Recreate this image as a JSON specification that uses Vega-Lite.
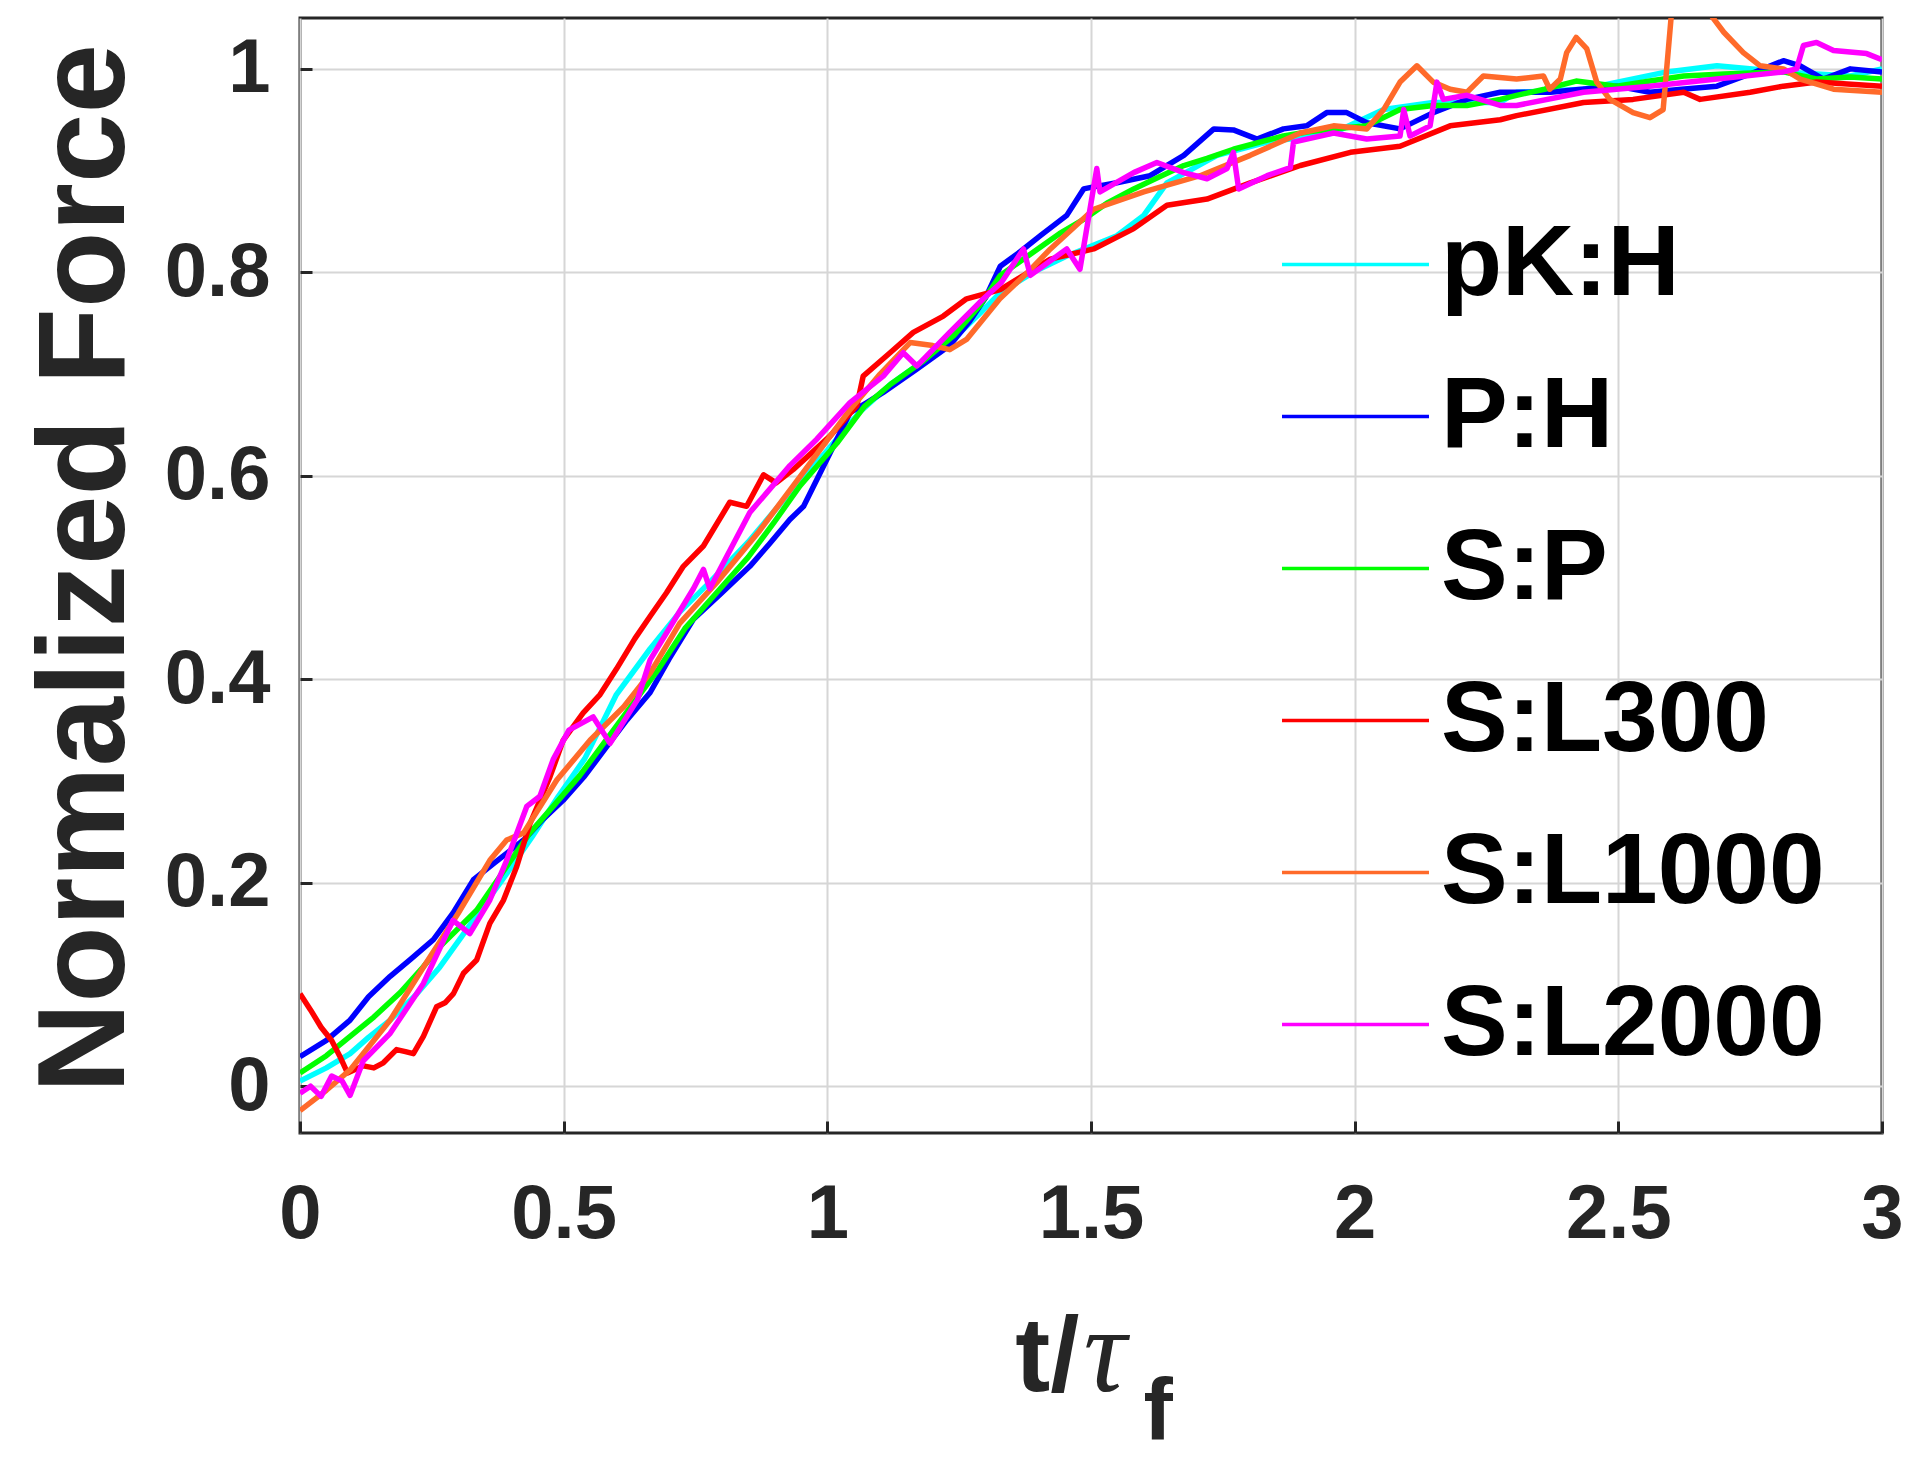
{
  "$schema": "https://vega.github.io/schema/vega-lite/v6.json",
  "autosize": "none",
  "width": 1582,
  "height": 1115,
  "padding": {"left": 300, "top": 18, "right": 38, "bottom": 334},
  "background": "white",
  "config": {
    "view": {"stroke": "#262626", "strokeWidth": 3},
    "axis": {"gridColor": "#d6d6d6", "gridWidth": 2, "gridOpacity": 1}
  },
  "datasets": {
    "curves": [
      {"s":"pK:H","x":0,"y":0.005},{"s":"pK:H","x":0.05,"y":0.018},{"s":"pK:H","x":0.095,"y":0.032},{"s":"pK:H","x":0.13,"y":0.048},{"s":"pK:H","x":0.171,"y":0.065},{"s":"pK:H","x":0.22,"y":0.09},{"s":"pK:H","x":0.265,"y":0.117},{"s":"pK:H","x":0.316,"y":0.154},{"s":"pK:H","x":0.392,"y":0.209},{"s":"pK:H","x":0.44,"y":0.245},{"s":"pK:H","x":0.49,"y":0.285},{"s":"pK:H","x":0.54,"y":0.322},{"s":"pK:H","x":0.6,"y":0.385},{"s":"pK:H","x":0.664,"y":0.43},{"s":"pK:H","x":0.72,"y":0.466},{"s":"pK:H","x":0.78,"y":0.497},{"s":"pK:H","x":0.85,"y":0.535},{"s":"pK:H","x":0.92,"y":0.578},{"s":"pK:H","x":1.0,"y":0.625},{"s":"pK:H","x":1.06,"y":0.662},{"s":"pK:H","x":1.12,"y":0.69},{"s":"pK:H","x":1.18,"y":0.712},{"s":"pK:H","x":1.24,"y":0.735},{"s":"pK:H","x":1.29,"y":0.76},{"s":"pK:H","x":1.328,"y":0.78},{"s":"pK:H","x":1.39,"y":0.8},{"s":"pK:H","x":1.454,"y":0.816},{"s":"pK:H","x":1.549,"y":0.836},{"s":"pK:H","x":1.6,"y":0.856},{"s":"pK:H","x":1.644,"y":0.888},{"s":"pK:H","x":1.739,"y":0.915},{"s":"pK:H","x":1.834,"y":0.928},{"s":"pK:H","x":1.96,"y":0.937},{"s":"pK:H","x":2.055,"y":0.96},{"s":"pK:H","x":2.149,"y":0.967},{"s":"pK:H","x":2.276,"y":0.967},{"s":"pK:H","x":2.307,"y":0.977},{"s":"pK:H","x":2.434,"y":0.98},{"s":"pK:H","x":2.592,"y":0.997},{"s":"pK:H","x":2.687,"y":1.003},{"s":"pK:H","x":2.813,"y":0.997},{"s":"pK:H","x":2.94,"y":0.993},{"s":"pK:H","x":3.0,"y":1.0},

      {"s":"P:H","x":0,"y":0.029},{"s":"P:H","x":0.05,"y":0.045},{"s":"P:H","x":0.095,"y":0.065},{"s":"P:H","x":0.13,"y":0.088},{"s":"P:H","x":0.171,"y":0.108},{"s":"P:H","x":0.21,"y":0.125},{"s":"P:H","x":0.253,"y":0.144},{"s":"P:H","x":0.29,"y":0.17},{"s":"P:H","x":0.329,"y":0.203},{"s":"P:H","x":0.37,"y":0.22},{"s":"P:H","x":0.424,"y":0.242},{"s":"P:H","x":0.46,"y":0.262},{"s":"P:H","x":0.499,"y":0.281},{"s":"P:H","x":0.54,"y":0.305},{"s":"P:H","x":0.582,"y":0.334},{"s":"P:H","x":0.62,"y":0.36},{"s":"P:H","x":0.664,"y":0.387},{"s":"P:H","x":0.7,"y":0.42},{"s":"P:H","x":0.746,"y":0.459},{"s":"P:H","x":0.8,"y":0.485},{"s":"P:H","x":0.853,"y":0.511},{"s":"P:H","x":0.89,"y":0.533},{"s":"P:H","x":0.929,"y":0.557},{"s":"P:H","x":0.955,"y":0.57},{"s":"P:H","x":0.999,"y":0.616},{"s":"P:H","x":1.043,"y":0.662},{"s":"P:H","x":1.075,"y":0.672},{"s":"P:H","x":1.106,"y":0.682},{"s":"P:H","x":1.17,"y":0.705},{"s":"P:H","x":1.232,"y":0.728},{"s":"P:H","x":1.27,"y":0.752},{"s":"P:H","x":1.3,"y":0.775},{"s":"P:H","x":1.328,"y":0.806},{"s":"P:H","x":1.365,"y":0.82},{"s":"P:H","x":1.404,"y":0.836},{"s":"P:H","x":1.454,"y":0.856},{"s":"P:H","x":1.486,"y":0.882},{"s":"P:H","x":1.505,"y":0.884},{"s":"P:H","x":1.549,"y":0.888},{"s":"P:H","x":1.612,"y":0.895},{"s":"P:H","x":1.676,"y":0.915},{"s":"P:H","x":1.733,"y":0.941},{"s":"P:H","x":1.77,"y":0.94},{"s":"P:H","x":1.815,"y":0.931},{"s":"P:H","x":1.865,"y":0.941},{"s":"P:H","x":1.909,"y":0.944},{"s":"P:H","x":1.947,"y":0.957},{"s":"P:H","x":1.985,"y":0.957},{"s":"P:H","x":2.023,"y":0.947},{"s":"P:H","x":2.086,"y":0.941},{"s":"P:H","x":2.149,"y":0.957},{"s":"P:H","x":2.213,"y":0.97},{"s":"P:H","x":2.276,"y":0.977},{"s":"P:H","x":2.371,"y":0.977},{"s":"P:H","x":2.43,"y":0.98},{"s":"P:H","x":2.497,"y":0.983},{"s":"P:H","x":2.56,"y":0.977},{"s":"P:H","x":2.62,"y":0.98},{"s":"P:H","x":2.687,"y":0.983},{"s":"P:H","x":2.75,"y":0.995},{"s":"P:H","x":2.813,"y":1.008},{"s":"P:H","x":2.845,"y":1.003},{"s":"P:H","x":2.889,"y":0.99},{"s":"P:H","x":2.94,"y":1.0},{"s":"P:H","x":3.0,"y":0.997},

      {"s":"S:P","x":0,"y":0.013},{"s":"S:P","x":0.05,"y":0.03},{"s":"S:P","x":0.095,"y":0.049},{"s":"S:P","x":0.14,"y":0.068},{"s":"S:P","x":0.19,"y":0.092},{"s":"S:P","x":0.23,"y":0.115},{"s":"S:P","x":0.265,"y":0.137},{"s":"S:P","x":0.3,"y":0.155},{"s":"S:P","x":0.335,"y":0.173},{"s":"S:P","x":0.392,"y":0.216},{"s":"S:P","x":0.436,"y":0.249},{"s":"S:P","x":0.48,"y":0.275},{"s":"S:P","x":0.53,"y":0.305},{"s":"S:P","x":0.58,"y":0.34},{"s":"S:P","x":0.63,"y":0.375},{"s":"S:P","x":0.68,"y":0.41},{"s":"S:P","x":0.73,"y":0.45},{"s":"S:P","x":0.79,"y":0.485},{"s":"S:P","x":0.85,"y":0.52},{"s":"S:P","x":0.9,"y":0.555},{"s":"S:P","x":0.948,"y":0.59},{"s":"S:P","x":1.018,"y":0.632},{"s":"S:P","x":1.07,"y":0.668},{"s":"S:P","x":1.12,"y":0.69},{"s":"S:P","x":1.18,"y":0.712},{"s":"S:P","x":1.24,"y":0.738},{"s":"S:P","x":1.29,"y":0.768},{"s":"S:P","x":1.328,"y":0.797},{"s":"S:P","x":1.391,"y":0.82},{"s":"S:P","x":1.44,"y":0.838},{"s":"S:P","x":1.486,"y":0.852},{"s":"S:P","x":1.53,"y":0.868},{"s":"S:P","x":1.581,"y":0.882},{"s":"S:P","x":1.63,"y":0.894},{"s":"S:P","x":1.676,"y":0.905},{"s":"S:P","x":1.72,"y":0.912},{"s":"S:P","x":1.77,"y":0.921},{"s":"S:P","x":1.82,"y":0.928},{"s":"S:P","x":1.865,"y":0.934},{"s":"S:P","x":1.91,"y":0.938},{"s":"S:P","x":1.96,"y":0.941},{"s":"S:P","x":2.023,"y":0.944},{"s":"S:P","x":2.086,"y":0.96},{"s":"S:P","x":2.149,"y":0.964},{"s":"S:P","x":2.213,"y":0.964},{"s":"S:P","x":2.276,"y":0.97},{"s":"S:P","x":2.307,"y":0.974},{"s":"S:P","x":2.36,"y":0.98},{"s":"S:P","x":2.42,"y":0.988},{"s":"S:P","x":2.497,"y":0.983},{"s":"S:P","x":2.56,"y":0.988},{"s":"S:P","x":2.624,"y":0.993},{"s":"S:P","x":2.7,"y":0.995},{"s":"S:P","x":2.813,"y":0.997},{"s":"S:P","x":2.876,"y":0.99},{"s":"S:P","x":2.94,"y":0.992},{"s":"S:P","x":3.0,"y":0.99},

      {"s":"S:L300","x":0,"y":0.091},{"s":"S:L300","x":0.02,"y":0.075},{"s":"S:L300","x":0.04,"y":0.058},{"s":"S:L300","x":0.06,"y":0.045},{"s":"S:L300","x":0.075,"y":0.03},{"s":"S:L300","x":0.09,"y":0.013},{"s":"S:L300","x":0.12,"y":0.02},{"s":"S:L300","x":0.14,"y":0.018},{"s":"S:L300","x":0.158,"y":0.023},{"s":"S:L300","x":0.183,"y":0.036},{"s":"S:L300","x":0.2,"y":0.034},{"s":"S:L300","x":0.215,"y":0.032},{"s":"S:L300","x":0.234,"y":0.049},{"s":"S:L300","x":0.259,"y":0.078},{"s":"S:L300","x":0.275,"y":0.082},{"s":"S:L300","x":0.291,"y":0.091},{"s":"S:L300","x":0.31,"y":0.111},{"s":"S:L300","x":0.335,"y":0.124},{"s":"S:L300","x":0.36,"y":0.16},{"s":"S:L300","x":0.386,"y":0.183},{"s":"S:L300","x":0.411,"y":0.216},{"s":"S:L300","x":0.436,"y":0.258},{"s":"S:L300","x":0.474,"y":0.304},{"s":"S:L300","x":0.499,"y":0.34},{"s":"S:L300","x":0.537,"y":0.367},{"s":"S:L300","x":0.569,"y":0.385},{"s":"S:L300","x":0.6,"y":0.41},{"s":"S:L300","x":0.635,"y":0.44},{"s":"S:L300","x":0.664,"y":0.462},{"s":"S:L300","x":0.695,"y":0.485},{"s":"S:L300","x":0.727,"y":0.511},{"s":"S:L300","x":0.765,"y":0.531},{"s":"S:L300","x":0.815,"y":0.574},{"s":"S:L300","x":0.847,"y":0.57},{"s":"S:L300","x":0.879,"y":0.601},{"s":"S:L300","x":0.903,"y":0.593},{"s":"S:L300","x":0.935,"y":0.606},{"s":"S:L300","x":1.005,"y":0.639},{"s":"S:L300","x":1.056,"y":0.669},{"s":"S:L300","x":1.068,"y":0.698},{"s":"S:L300","x":1.119,"y":0.721},{"s":"S:L300","x":1.163,"y":0.741},{"s":"S:L300","x":1.22,"y":0.757},{"s":"S:L300","x":1.264,"y":0.774},{"s":"S:L300","x":1.328,"y":0.783},{"s":"S:L300","x":1.423,"y":0.813},{"s":"S:L300","x":1.505,"y":0.823},{"s":"S:L300","x":1.581,"y":0.843},{"s":"S:L300","x":1.644,"y":0.866},{"s":"S:L300","x":1.72,"y":0.872},{"s":"S:L300","x":1.802,"y":0.888},{"s":"S:L300","x":1.897,"y":0.905},{"s":"S:L300","x":1.992,"y":0.918},{"s":"S:L300","x":2.086,"y":0.924},{"s":"S:L300","x":2.181,"y":0.944},{"s":"S:L300","x":2.276,"y":0.95},{"s":"S:L300","x":2.307,"y":0.954},{"s":"S:L300","x":2.434,"y":0.967},{"s":"S:L300","x":2.528,"y":0.97},{"s":"S:L300","x":2.624,"y":0.977},{"s":"S:L300","x":2.655,"y":0.97},{"s":"S:L300","x":2.75,"y":0.977},{"s":"S:L300","x":2.813,"y":0.983},{"s":"S:L300","x":2.876,"y":0.987},{"s":"S:L300","x":3.0,"y":0.983},

      {"s":"S:L1000","x":0,"y":-0.024},{"s":"S:L1000","x":0.05,"y":-0.004},{"s":"S:L1000","x":0.095,"y":0.016},{"s":"S:L1000","x":0.171,"y":0.065},{"s":"S:L1000","x":0.234,"y":0.117},{"s":"S:L1000","x":0.3,"y":0.17},{"s":"S:L1000","x":0.36,"y":0.222},{"s":"S:L1000","x":0.392,"y":0.242},{"s":"S:L1000","x":0.424,"y":0.249},{"s":"S:L1000","x":0.487,"y":0.301},{"s":"S:L1000","x":0.55,"y":0.34},{"s":"S:L1000","x":0.614,"y":0.373},{"s":"S:L1000","x":0.664,"y":0.406},{"s":"S:L1000","x":0.72,"y":0.455},{"s":"S:L1000","x":0.79,"y":0.495},{"s":"S:L1000","x":0.87,"y":0.545},{"s":"S:L1000","x":0.948,"y":0.599},{"s":"S:L1000","x":1.043,"y":0.665},{"s":"S:L1000","x":1.1,"y":0.7},{"s":"S:L1000","x":1.157,"y":0.731},{"s":"S:L1000","x":1.2,"y":0.728},{"s":"S:L1000","x":1.232,"y":0.724},{"s":"S:L1000","x":1.264,"y":0.734},{"s":"S:L1000","x":1.327,"y":0.774},{"s":"S:L1000","x":1.38,"y":0.8},{"s":"S:L1000","x":1.423,"y":0.823},{"s":"S:L1000","x":1.505,"y":0.862},{"s":"S:L1000","x":1.6,"y":0.879},{"s":"S:L1000","x":1.707,"y":0.895},{"s":"S:L1000","x":1.802,"y":0.915},{"s":"S:L1000","x":1.897,"y":0.937},{"s":"S:L1000","x":1.96,"y":0.944},{"s":"S:L1000","x":2.023,"y":0.941},{"s":"S:L1000","x":2.055,"y":0.96},{"s":"S:L1000","x":2.086,"y":0.987},{"s":"S:L1000","x":2.118,"y":1.003},{"s":"S:L1000","x":2.149,"y":0.987},{"s":"S:L1000","x":2.181,"y":0.98},{"s":"S:L1000","x":2.213,"y":0.977},{"s":"S:L1000","x":2.244,"y":0.993},{"s":"S:L1000","x":2.307,"y":0.99},{"s":"S:L1000","x":2.358,"y":0.993},{"s":"S:L1000","x":2.37,"y":0.98},{"s":"S:L1000","x":2.39,"y":0.99},{"s":"S:L1000","x":2.402,"y":1.016},{"s":"S:L1000","x":2.42,"y":1.031},{"s":"S:L1000","x":2.44,"y":1.02},{"s":"S:L1000","x":2.459,"y":0.987},{"s":"S:L1000","x":2.484,"y":0.97},{"s":"S:L1000","x":2.528,"y":0.957},{"s":"S:L1000","x":2.56,"y":0.952},{"s":"S:L1000","x":2.585,"y":0.96},{"s":"S:L1000","x":2.595,"y":1.02},{"s":"S:L1000","x":2.605,"y":1.08},{"s":"S:L1000","x":2.62,"y":1.1},{"s":"S:L1000","x":2.65,"y":1.09},{"s":"S:L1000","x":2.668,"y":1.058},{"s":"S:L1000","x":2.7,"y":1.036},{"s":"S:L1000","x":2.737,"y":1.016},{"s":"S:L1000","x":2.769,"y":1.003},{"s":"S:L1000","x":2.813,"y":1.0},{"s":"S:L1000","x":2.845,"y":0.99},{"s":"S:L1000","x":2.908,"y":0.98},{"s":"S:L1000","x":3.0,"y":0.977},

      {"s":"S:L2000","x":0,"y":-0.007},{"s":"S:L2000","x":0.02,"y":0.0},{"s":"S:L2000","x":0.04,"y":-0.01},{"s":"S:L2000","x":0.06,"y":0.01},{"s":"S:L2000","x":0.08,"y":0.005},{"s":"S:L2000","x":0.095,"y":-0.009},{"s":"S:L2000","x":0.12,"y":0.025},{"s":"S:L2000","x":0.171,"y":0.052},{"s":"S:L2000","x":0.234,"y":0.101},{"s":"S:L2000","x":0.29,"y":0.163},{"s":"S:L2000","x":0.322,"y":0.15},{"s":"S:L2000","x":0.36,"y":0.183},{"s":"S:L2000","x":0.392,"y":0.222},{"s":"S:L2000","x":0.43,"y":0.275},{"s":"S:L2000","x":0.455,"y":0.285},{"s":"S:L2000","x":0.48,"y":0.321},{"s":"S:L2000","x":0.51,"y":0.35},{"s":"S:L2000","x":0.556,"y":0.363},{"s":"S:L2000","x":0.588,"y":0.337},{"s":"S:L2000","x":0.64,"y":0.38},{"s":"S:L2000","x":0.664,"y":0.419},{"s":"S:L2000","x":0.746,"y":0.489},{"s":"S:L2000","x":0.765,"y":0.508},{"s":"S:L2000","x":0.777,"y":0.489},{"s":"S:L2000","x":0.853,"y":0.564},{"s":"S:L2000","x":0.929,"y":0.61},{"s":"S:L2000","x":0.98,"y":0.636},{"s":"S:L2000","x":1.043,"y":0.672},{"s":"S:L2000","x":1.106,"y":0.698},{"s":"S:L2000","x":1.144,"y":0.721},{"s":"S:L2000","x":1.17,"y":0.708},{"s":"S:L2000","x":1.232,"y":0.741},{"s":"S:L2000","x":1.296,"y":0.774},{"s":"S:L2000","x":1.33,"y":0.79},{"s":"S:L2000","x":1.372,"y":0.823},{"s":"S:L2000","x":1.385,"y":0.797},{"s":"S:L2000","x":1.454,"y":0.823},{"s":"S:L2000","x":1.479,"y":0.803},{"s":"S:L2000","x":1.511,"y":0.902},{"s":"S:L2000","x":1.517,"y":0.879},{"s":"S:L2000","x":1.581,"y":0.898},{"s":"S:L2000","x":1.625,"y":0.908},{"s":"S:L2000","x":1.676,"y":0.898},{"s":"S:L2000","x":1.72,"y":0.892},{"s":"S:L2000","x":1.758,"y":0.902},{"s":"S:L2000","x":1.77,"y":0.918},{"s":"S:L2000","x":1.78,"y":0.882},{"s":"S:L2000","x":1.834,"y":0.895},{"s":"S:L2000","x":1.878,"y":0.903},{"s":"S:L2000","x":1.884,"y":0.928},{"s":"S:L2000","x":1.96,"y":0.937},{"s":"S:L2000","x":2.023,"y":0.931},{"s":"S:L2000","x":2.086,"y":0.934},{"s":"S:L2000","x":2.093,"y":0.96},{"s":"S:L2000","x":2.105,"y":0.934},{"s":"S:L2000","x":2.143,"y":0.944},{"s":"S:L2000","x":2.156,"y":0.987},{"s":"S:L2000","x":2.168,"y":0.97},{"s":"S:L2000","x":2.213,"y":0.974},{"s":"S:L2000","x":2.276,"y":0.964},{"s":"S:L2000","x":2.307,"y":0.964},{"s":"S:L2000","x":2.434,"y":0.977},{"s":"S:L2000","x":2.56,"y":0.983},{"s":"S:L2000","x":2.687,"y":0.99},{"s":"S:L2000","x":2.813,"y":0.997},{"s":"S:L2000","x":2.838,"y":1.0},{"s":"S:L2000","x":2.851,"y":1.023},{"s":"S:L2000","x":2.876,"y":1.026},{"s":"S:L2000","x":2.908,"y":1.018},{"s":"S:L2000","x":2.971,"y":1.015},{"s":"S:L2000","x":3.0,"y":1.009}
    ]
  },
  "data": {"name": "curves"},
  "layer": [
    {
      "mark": {"type": "line", "strokeWidth": 5.5, "clip": true, "strokeJoin": "round"},
      "encoding": {
        "x": {
          "field": "x", "type": "quantitative",
          "scale": {"domain": [0, 3], "nice": false, "zero": false},
          "axis": {
            "orient": "bottom",
            "values": [0, 0.5, 1, 1.5, 2, 2.5, 3],
            "format": "~g",
            "grid": true, "domain": false,
            "ticks": true, "tickSize": -12, "tickWidth": 3, "tickColor": "#262626",
            "labelFont": "Liberation Sans", "labelFontWeight": "bold", "labelFontSize": 76,
            "labelColor": "#262626", "labelPadding": 56, "labelFlush": false, "labelOverlap": false,
            "title": "t/",
            "titleFont": "Liberation Sans", "titleFontWeight": "bold", "titleFontSize": 105,
            "titleColor": "#262626", "titleAlign": "right", "titleBaseline": "alphabetic",
            "titleX": 779, "titleY": 257
          }
        },
        "y": {
          "field": "y", "type": "quantitative",
          "scale": {"domain": [-0.046, 1.05], "nice": false, "zero": false},
          "axis": {
            "values": [0, 0.2, 0.4, 0.6, 0.8, 1],
            "format": "~g",
            "grid": true, "domain": false,
            "ticks": true, "tickSize": -12, "tickWidth": 3, "tickColor": "#262626",
            "labelFont": "Liberation Sans", "labelFontWeight": "bold", "labelFontSize": 76,
            "labelColor": "#262626", "labelPadding": 42, "labelFlush": false, "labelOverlap": false,
            "title": "Normalized Force",
            "titleFont": "Liberation Sans", "titleFontWeight": "bold", "titleFontSize": 125,
            "titleColor": "#262626", "titleAngle": -90, "titleAlign": "center", "titleBaseline": "alphabetic",
            "titleX": -177, "titleY": 550
          }
        },
        "color": {
          "field": "s", "type": "nominal",
          "scale": {
            "domain": ["pK:H", "P:H", "S:P", "S:L300", "S:L1000", "S:L2000"],
            "range": ["#00ffff", "#0000ff", "#00ff00", "#ff0000", "#ff6a2a", "#ff00ff"]
          },
          "legend": {
            "orient": "none", "legendX": 980, "legendY": 171,
            "title": null, "padding": 0,
            "symbolType": "stroke", "symbolSize": 21600, "symbolStrokeWidth": 3.5,
            "labelFont": "Liberation Sans", "labelFontWeight": "bold", "labelFontSize": 100,
            "labelColor": "#000000", "labelOffset": 10, "labelLimit": 1000,
            "rowPadding": 26
          }
        },
        "order": {"field": "x", "type": "quantitative"}
      }
    },
    {
      "transform": [{"filter": "datum.s == 'pK:H' && datum.x == 0"}],
      "mark": {"type": "rule", "opacity": 0},
      "encoding": {
        "x": {
          "field": "x", "type": "quantitative",
          "axis": {
            "orient": "bottom", "grid": false, "labels": false, "ticks": false, "domain": false,
            "title": "τ", "titleFont": "Liberation Serif", "titleFontStyle": "italic", "titleFontWeight": "normal",
            "titleFontSize": 120, "titleColor": "#262626", "titleAlign": "left", "titleBaseline": "alphabetic",
            "titleX": 783, "titleY": 257
          }
        }
      }
    },
    {
      "transform": [{"filter": "datum.s == 'pK:H' && datum.x == 0"}],
      "mark": {"type": "rule", "opacity": 0},
      "encoding": {
        "x": {
          "field": "x", "type": "quantitative",
          "axis": {
            "orient": "bottom", "grid": false, "labels": false, "ticks": false, "domain": false,
            "title": "f", "titleFont": "Liberation Sans", "titleFontWeight": "bold",
            "titleFontSize": 88, "titleColor": "#262626", "titleAlign": "left", "titleBaseline": "alphabetic",
            "titleX": 843, "titleY": 305
          }
        }
      }
    }
  ],
  "resolve": {"axis": {"x": "independent"}}
}
